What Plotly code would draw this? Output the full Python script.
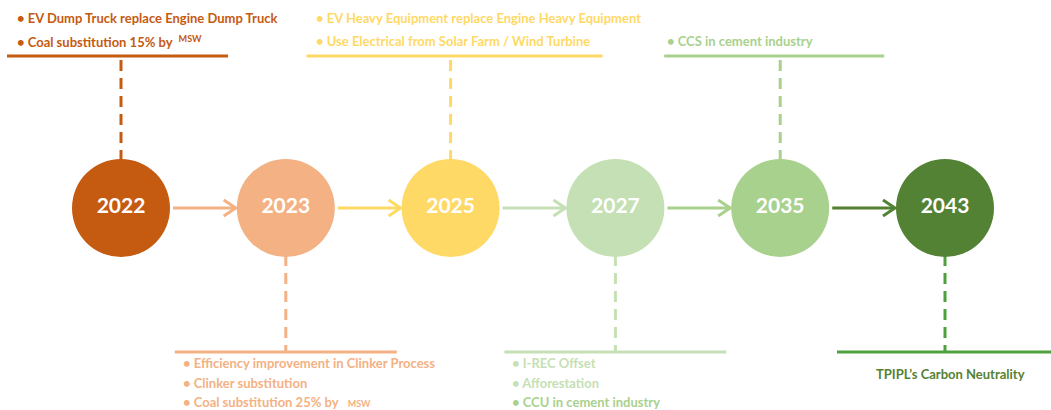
import plotly.graph_objects as go

# ---------------- data ----------------
years = ["2022", "2023", "2025", "2027", "2035", "2043"]
sides = ["top", "bottom", "top", "bottom", "top", "bottom"]
items = [
    ["EV Dump Truck replace Engine Dump Truck",
     "Coal substitution 15% by  <sup>MSW</sup>"],
    ["Efficiency improvement in Clinker Process",
     "Clinker substitution",
     "Coal substitution 25% by   <span style='font-size:9px'>MSW</span>"],
    ["EV Heavy Equipment replace Engine Heavy Equipment",
     "Use Electrical from Solar Farm / Wind Turbine"],
    ["I-REC Offset", "Afforestation", "CCU in cement industry"],
    ["CCS in cement industry"],
    ["TPIPL\u2019s Carbon Neutrality"],
]
bulleted = [True, True, True, True, True, False]

# ---------------- style ----------------
colors = ["#C55A11", "#F4B183", "#FFD966", "#C5E0B4", "#A9D18E", "#548235"]
connector_colors = ["#C55A11", "#F4B183", "#FFD966", "#C5E0B4", "#A9D18E", "#4E9F3D"]
text_colors = [
    ["#C55A11", "#C55A11"],
    ["#F4B183", "#F4B183", "#F4B183"],
    ["#FFD966", "#FFD966"],
    ["#C5E0B4", "#C5E0B4", "#A9D18E"],
    ["#A9D18E"],
    ["#548235"],
]
# box geometry in pixels relative to circle centre: (underline left, underline right, text left)
boxes = [(-114, 107, -106), (-111, 111, -105), (-144, 152, -137),
         (-111, 111, -105), (-116, 104, -115), (-108, 110, None)]

W, H = 1051, 410
X0 = 121          # pixel x of first circle
UNIT = 164.8      # pixels between circles
YC = 208          # timeline y (pixels)
R = 49            # circle radius (pixels)
TOP_LINE, BOT_LINE = 56, 352
FONT = "Lato"

def px(d):
    return d / UNIT

fig = go.Figure()

n = len(years)
idx = list(range(n))

# arrows between circles
for i in range(n - 1):
    xa = i + px(R + 3)
    xb = i + 1 - px(R + 1)
    fig.add_trace(go.Scatter(
        x=[xa, xb, None, xb - px(12), xb, xb - px(12)],
        y=[YC, YC, None, YC - 8, YC, YC + 8],
        mode="lines", line=dict(color=colors[i + 1], width=3),
        hoverinfo="skip", showlegend=False))

# dashed connectors and underlines
for i in idx:
    if sides[i] == "top":
        y0, y1 = YC - R + 2, TOP_LINE
    else:
        y0, y1 = YC + R - 2, BOT_LINE
    fig.add_trace(go.Scatter(
        x=[i, i], y=[y0, y1], mode="lines",
        line=dict(color=connector_colors[i], width=3, dash="11px,7px"),
        hoverinfo="skip", showlegend=False))
    l, r, _ = boxes[i]
    fig.add_trace(go.Scatter(
        x=[i + px(l), i + px(r)], y=[y1, y1], mode="lines",
        line=dict(color=connector_colors[i], width=3),
        hoverinfo="skip", showlegend=False))

# circles with years
fig.add_trace(go.Scatter(
    x=idx, y=[YC] * n, mode="markers+text",
    marker=dict(size=2 * R, color=colors, line=dict(width=0)),
    text=["<b>%s</b>" % y for y in years], textposition="middle center",
    textfont=dict(family=FONT, size=21, color="white"),
    hoverinfo="skip", showlegend=False))

# text items
for i in idx:
    lines = items[i]
    m = len(lines)
    _, _, tl = boxes[i]
    for k, t in enumerate(lines):
        if sides[i] == "top":
            y = 41 - (m - 1 - k) * 23
        else:
            y = 363 + k * 19.5 if m > 1 else 374
        label = ("\u2022 " + t) if bulleted[i] else t
        if tl is None:
            fig.add_annotation(x=i + px(5), y=y, text="<b>%s</b>" % label,
                               xanchor="center", yanchor="middle", showarrow=False,
                               font=dict(family=FONT, size=13, color=text_colors[i][k]))
        else:
            fig.add_annotation(x=i + px(tl), y=y, text="<b>%s</b>" % label,
                               xanchor="left", yanchor="middle", showarrow=False,
                               font=dict(family=FONT, size=13, color=text_colors[i][k]))

fig.update_layout(
    width=W, height=H, margin=dict(l=0, r=0, t=0, b=0),
    plot_bgcolor="white", paper_bgcolor="white",
    xaxis=dict(range=[-X0 / UNIT, (W - X0) / UNIT], visible=False, fixedrange=True),
    yaxis=dict(range=[H, 0], visible=False, fixedrange=True),
)

fig.write_html("out.html", config={"displayModeBar": False},
               post_script="document.body.style.margin='0';document.body.style.overflow='hidden';")
